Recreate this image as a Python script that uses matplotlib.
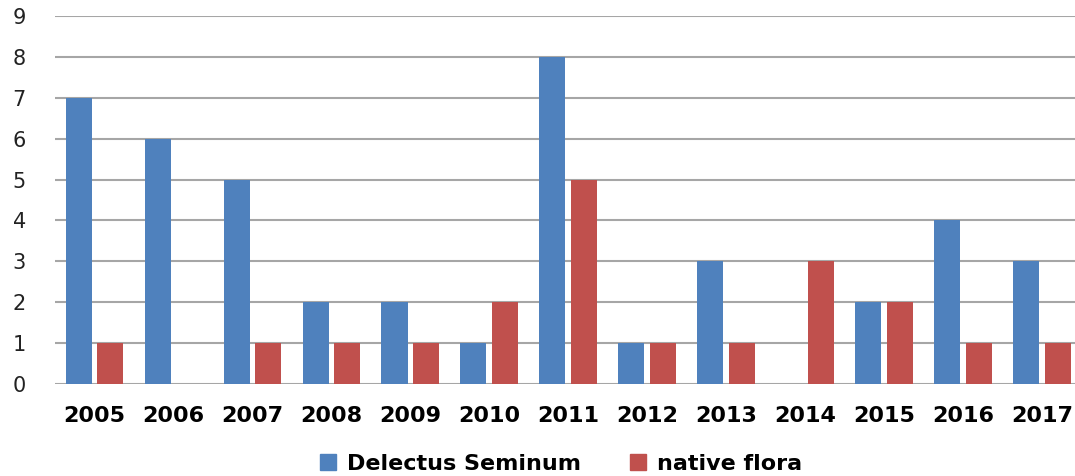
import matplotlib
matplotlib.use("Agg")
import matplotlib.pyplot as plt
import numpy as np
from matplotlib.patches import Patch

years = ["2005", "2006", "2007", "2008", "2009", "2010", "2011",
         "2012", "2013", "2014", "2015", "2016", "2017"]
delectus = [7, 6, 5, 2, 2, 1, 8, 1, 3, 0, 2, 4, 3]
native = [1, 0, 1, 1, 1, 2, 5, 1, 1, 3, 2, 1, 1]
series_names = ["Delectus Seminum", "native flora"]
colors = ["#4F81BD", "#C0504D"]

plt.rcParams['font.family'] = ['DejaVu Sans']

fig = plt.figure(figsize=(10.75, 4.76), dpi=100)
ax = fig.add_axes([55/1075, 92/476, 1 - 55/1075, (384 - 16)/476])

x = np.arange(len(years))
w = 0.33
ax.bar(x - 0.2, delectus, w, color=colors[0], zorder=3)
ax.bar(x + 0.2, native, w, color=colors[1], zorder=3)

ax.set_ylim(0, 9)
ax.set_xlim(-0.5, 12.42)
ax.set_yticks(range(10))
ax.yaxis.grid(True, color="#A6A6A6", linewidth=1.5, zorder=0)
for s in ax.spines.values():
    s.set_visible(False)
ax.tick_params(axis='y', length=0, pad=21, labelsize=15, labelcolor="#222222")
ax.tick_params(axis='x', length=0, pad=16)
ax.set_xticks(x)
ax.set_xticklabels(years, fontsize=16, fontweight='bold')

handles = [Patch(color=c) for c in colors]
fig.legend(handles, series_names, loc='lower center', bbox_to_anchor=(0.522, -0.037),
           ncol=2, frameon=False, prop={'weight': 'bold', 'size': 16},
           handlelength=0.7, handleheight=0.7, columnspacing=2.2, handletextpad=0.5)

fig.savefig("out.png", dpi=100)
